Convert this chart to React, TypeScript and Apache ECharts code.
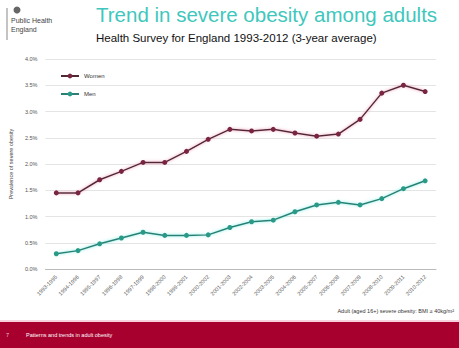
import React, { useEffect, useRef } from "react";
import * as echarts from "echarts";

const categories = [
  "1993-1995", "1994-1996", "1995-1997", "1996-1998", "1997-1999", "1998-2000",
  "1999-2001", "2000-2002", "2001-2003", "2002-2004", "2003-2005", "2004-2006",
  "2005-2007", "2006-2008", "2007-2009", "2008-2010", "2009-2011", "2010-2012",
];
const women = [1.45, 1.45, 1.70, 1.86, 2.03, 2.03, 2.24, 2.47, 2.66, 2.63, 2.66, 2.59, 2.53, 2.57, 2.85, 3.35, 3.50, 3.38];
const men = [0.29, 0.35, 0.48, 0.59, 0.70, 0.64, 0.64, 0.65, 0.79, 0.90, 0.93, 1.09, 1.22, 1.27, 1.22, 1.34, 1.53, 1.68];

export default function App() {
  const ref = useRef<HTMLDivElement>(null);
  useEffect(() => {
    document.body.style.margin = "0";
    const chart = echarts.init(ref.current!, undefined, { renderer: "svg" });
    const font = "Liberation Sans, Arial, sans-serif";
    chart.setOption({
      animation: false,
      backgroundColor: "#ffffff",
      textStyle: { fontFamily: font },
      grid: { left: 38, right: 23, top: 59, bottom: 79 },
      legend: {
        left: 55,
        top: 68,
        orient: "vertical",
        itemGap: 12,
        itemWidth: 18,
        itemHeight: 6,
        textStyle: { fontSize: 6, color: "#333" },
        data: ["Women", "Men"],
      },
      xAxis: {
        type: "category",
        data: categories,
        boundaryGap: true,
        axisLine: { lineStyle: { color: "#bbbbbb" } },
        axisTick: { show: false },
        axisLabel: { rotate: 45, fontSize: 5.5, color: "#555", interval: 0, margin: 7 },
      },
      yAxis: {
        type: "value",
        min: 0,
        max: 4,
        interval: 0.5,
        name: "Prevalence of severe obesity",
        nameLocation: "middle",
        nameGap: 29,
        nameTextStyle: { fontSize: 5.5, color: "#444" },
        axisLine: { show: false },
        axisTick: { show: false },
        axisLabel: { fontSize: 5.5, color: "#555", formatter: (v: number) => v.toFixed(1) + "%" },
        splitLine: { lineStyle: { color: "#e4e4e4" } },
      },
      series: [
        {
          name: "Women",
          type: "line",
          data: women,
          symbol: "circle",
          symbolSize: 5,
          itemStyle: { color: "#7a2540" },
          lineStyle: { color: "#4e2a35", width: 1.5, shadowColor: "rgba(230,120,160,0.8)", shadowBlur: 3 },
        },
        {
          name: "Men",
          type: "line",
          data: men,
          symbol: "circle",
          symbolSize: 5,
          itemStyle: { color: "#2a9a88" },
          lineStyle: { color: "#2c7f74", width: 1.5, shadowColor: "rgba(80,230,215,0.8)", shadowBlur: 3 },
        },
      ],
      graphic: [
        { type: "line", shape: { x1: 7, y1: 8, x2: 7, y2: 40 }, style: { stroke: "#888", lineWidth: 1 } },
        { type: "circle", shape: { cx: 17, cy: 10, r: 3.5 }, style: { fill: "#666" } },
        { type: "text", left: 11, top: 16, style: { text: "Public Health\nEngland", fontSize: 7, lineHeight: 9, fill: "#444", fontFamily: font } },
        { type: "text", left: 96, top: 4, style: { text: "Trend in severe obesity among adults", fontSize: 20.5, fill: "#3fc7bd", fontFamily: font } },
        { type: "text", left: 96, top: 32, style: { text: "Health Survey for England 1993-2012 (3-year average)", fontSize: 11.5, fill: "#111", fontFamily: font } },
        { type: "text", right: 5, top: 308, style: { text: "Adult (aged 16+) severe obesity: BMI \u2265 40kg/m\u00b2", fontSize: 5.5, fill: "#333", fontFamily: font } },
        { type: "rect", shape: { x: 0, y: 320, width: 459, height: 2 }, style: { fill: "#f6d0dc" } },
        { type: "rect", shape: { x: 0, y: 322, width: 459, height: 26 }, style: { fill: "#a8002e" } },
        { type: "text", left: 6, top: 332, style: { text: "7", fontSize: 5.5, fill: "#f0c0cc", fontFamily: font } },
        { type: "text", left: 26, top: 332, style: { text: "Patterns and trends in adult obesity", fontSize: 5.5, fill: "#ffffff", fontFamily: font } },
      ],
    });
    return () => chart.dispose();
  }, []);
  return <div ref={ref} style={{ width: 459, height: 348, position: "absolute", left: 0, top: 0 }} />;
}
